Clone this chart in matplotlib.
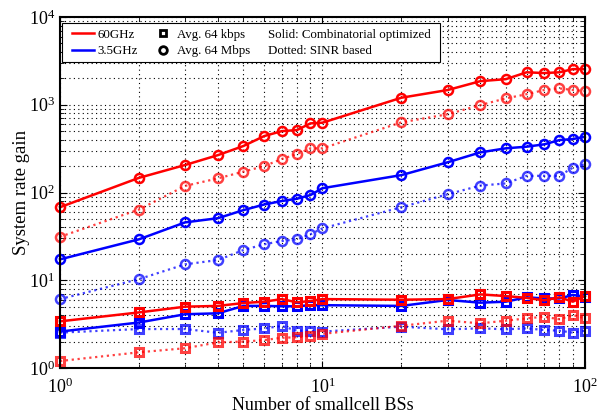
import matplotlib
matplotlib.use('Agg')
from matplotlib import pyplot as plt
from matplotlib.lines import Line2D
from matplotlib.patches import Rectangle
from matplotlib.ticker import LogLocator, NullFormatter

plt.rcParams['font.family'] = ['Liberation Serif', 'DejaVu Serif']
plt.rcParams['mathtext.fontset'] = 'custom'
plt.rcParams['mathtext.rm'] = 'Liberation Serif'
plt.rcParams['mathtext.it'] = 'Liberation Serif:italic'

# number of smallcell BSs
num_bs = [1, 2, 3, 4, 5, 6, 7, 8, 9, 10, 20, 30, 40, 50, 60, 70, 80, 90, 100]

# Avg. 64 Mbps (circles)
red_solid_mbps = [68, 147, 206, 267, 339, 440, 501, 515, 614, 625, 1204, 1473, 1860, 1960, 2346, 2300, 2346, 2550, 2550]
red_dot_mbps = [31.3, 64, 119, 145, 173, 200, 241, 275, 319, 319, 631, 780, 993, 1183, 1320, 1473, 1540, 1473, 1435]
blue_solid_mbps = [17.3, 29.3, 45.7, 51, 63, 73, 80, 85, 93.5, 112, 158, 221, 287, 319, 333, 354, 396, 407, 432]
blue_dot_mbps = [6.1, 10.3, 15.2, 17.0, 22.1, 25.7, 28, 29.3, 33.4, 39, 68, 95.5, 120, 127, 155, 155, 155, 192, 210]

# Avg. 64 kbps (squares)
red_solid_kbps = [3.4, 4.3, 5.0, 5.1, 5.5, 5.7, 6.1, 5.6, 5.8, 6.1, 6.0, 6.1, 6.9, 6.6, 6.3, 5.9, 6.4, 5.7, 6.6]
blue_solid_kbps = [2.6, 3.3, 4.1, 4.2, 5.1, 5.1, 5.05, 5.05, 5.2, 5.2, 5.1, 5.96, 5.55, 5.7, 6.4, 6.2, 6.2, 6.8, 6.5]
red_dot_kbps = [1.2, 1.51, 1.68, 1.96, 2.0, 2.08, 2.21, 2.24, 2.32, 2.45, 3.03, 3.46, 3.23, 3.46, 3.68, 3.84, 3.59, 4.02, 3.68]
blue_dot_kbps = [2.53, 2.78, 2.78, 2.52, 2.71, 2.83, 3.01, 2.66, 2.66, 2.6, 2.96, 2.76, 2.83, 2.76, 2.83, 2.71, 2.66, 2.53, 2.66]

red = '#ff0000'
blue = '#0000ff'

fig = plt.figure(figsize=(5.98, 4.16), dpi=100)
ax = fig.add_axes([0.1003, 0.1154, 0.8777, 0.8436])

circ = dict(marker='o', markersize=6.5, markerfacecolor='none', markeredgewidth=1.8, clip_on=False)
sq = dict(marker='s', markersize=6, markerfacecolor='none', markeredgewidth=2.2, clip_on=False)

# 64 Mbps
ax.plot(num_bs, red_dot_mbps, ':', color=red, lw=1.6, alpha=0.75, **circ)
ax.plot(num_bs, red_solid_mbps, '-', color=red, lw=1.8, **circ)
ax.plot(num_bs, blue_dot_mbps, ':', color=blue, lw=1.6, alpha=0.75, **circ)
ax.plot(num_bs, blue_solid_mbps, '-', color=blue, lw=1.8, **circ)

# 64 kbps
ax.plot(num_bs, blue_dot_kbps, ':', color=blue, lw=1.6, alpha=0.75, **sq)
ax.plot(num_bs, blue_solid_kbps, '-', color=blue, lw=1.8, **sq)
ax.plot(num_bs, red_dot_kbps, ':', color=red, lw=1.6, alpha=0.75, **sq)
ax.plot(num_bs, red_solid_kbps, '-', color=red, lw=1.8, **sq)

ax.set_xscale('log')
ax.set_yscale('log')
ax.set_xlim(1, 100)
ax.set_ylim(1, 1e4)
ax.xaxis.set_minor_locator(LogLocator(base=10, subs=range(2, 10)))
ax.yaxis.set_minor_locator(LogLocator(base=10, subs=range(2, 10)))
ax.xaxis.set_minor_formatter(NullFormatter())
ax.yaxis.set_minor_formatter(NullFormatter())

ax.grid(True, which='both', color='black', linestyle=(0, (1, 3)), linewidth=0.8)
ax.tick_params(which='both', direction='in', top=True, right=True, labelsize=13)
ax.tick_params(axis='x', which='major', pad=7)
ax.tick_params(which='major', length=5, width=0.8)
ax.tick_params(which='minor', length=3, width=0.6)
for s in ax.spines.values():
    s.set_linewidth(1.5)

ax.set_xlabel('Number of smallcell BSs', fontsize=13, labelpad=0)
ax.set_ylabel('System rate gain', fontsize=13.5, labelpad=-1)

# legend box (white, thin black frame) drawn behind a frameless legend
ax.add_patch(Rectangle((0.003, 0.871), 0.721, 0.111, transform=ax.transAxes,
                       facecolor='white', edgecolor='black', linewidth=0.8, zorder=4))

handles = [
    Line2D([], [], color=red, lw=1.8),
    Line2D([], [], color=blue, lw=1.8),
    Line2D([], [], color='black', linestyle='none', marker='s', markersize=5, markerfacecolor='none', markeredgewidth=2),
    Line2D([], [], color='black', linestyle='none', marker='o', markersize=5.5, markerfacecolor='none', markeredgewidth=2),
    Line2D([], [], linestyle='none'),
    Line2D([], [], linestyle='none'),
]
labels = ['60GHz', '3.5GHz', 'Avg. 64 kbps', 'Avg. 64 Mbps',
          'Solid: Combinatorial optimized', 'Dotted: SINR based']
leg = ax.legend(handles, labels, ncol=3, loc='upper left', bbox_to_anchor=(0.0125, 0.983),
                fontsize=9.3, frameon=False,
                handlelength=1.7, handletextpad=0.25, columnspacing=1.07,
                borderpad=0.45, labelspacing=0.35, borderaxespad=0)
leg.set_zorder(5)
# pull the text-only column closer to the marker column
for t in leg.get_texts()[4:]:
    t.set_x(-21)

plt.savefig('out.png', dpi=100)
